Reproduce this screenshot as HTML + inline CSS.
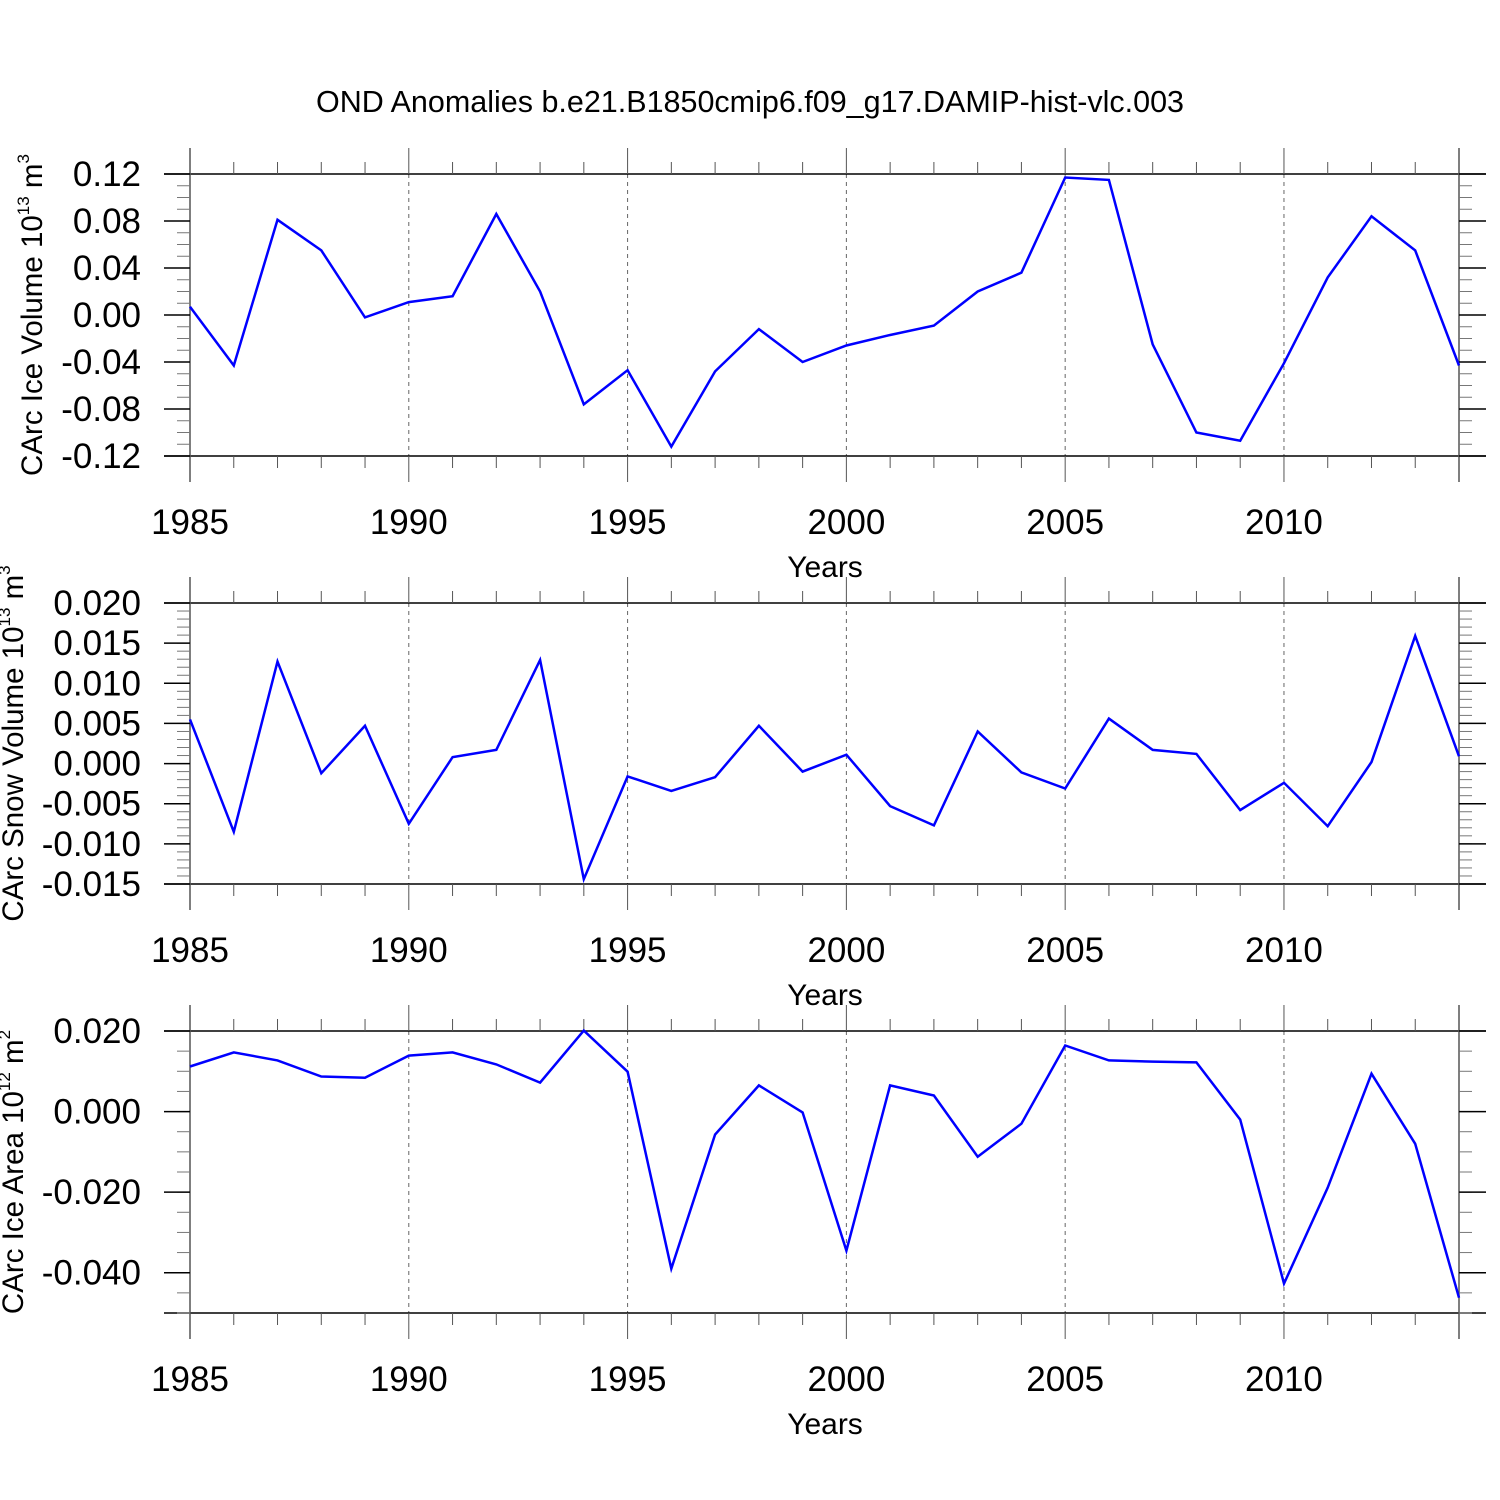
<!DOCTYPE html>
<html><head><meta charset="utf-8"><style>
body{margin:0;background:#fff}
svg{display:block;font-family:"Liberation Sans",sans-serif}
</style></head><body>
<svg id="chart" width="1500" height="1500" viewBox="0 0 1500 1500">
<rect width="1500" height="1500" fill="#fff"/>
<text x="750" y="112" font-size="30.5" text-anchor="middle">OND Anomalies b.e21.B1850cmip6.f09_g17.DAMIP-hist-vlc.003</text>
</svg>
<script>
const years = [];
for (let y = 1985; y <= 2014; y++) years.push(y);
const iceVolume = [0.007,-0.043,0.081,0.055,-0.002,0.011,0.016,0.086,0.020,-0.076,-0.047,-0.112,-0.048,-0.012,-0.040,-0.026,-0.017,-0.009,0.020,0.036,0.117,0.115,-0.025,-0.100,-0.107,-0.041,0.032,0.084,0.055,-0.043];
const snowVolume = [0.0055,-0.0085,0.0127,-0.0012,0.0047,-0.0075,0.0008,0.0017,0.0129,-0.0144,-0.0016,-0.0034,-0.0017,0.0047,-0.0010,0.0011,-0.0053,-0.0077,0.0040,-0.0011,-0.0031,0.0056,0.0017,0.0012,-0.0058,-0.0024,-0.0078,0.0002,0.0159,0.0009];
const iceArea = [0.0112,0.0147,0.0127,0.0087,0.0084,0.0139,0.0147,0.0117,0.0072,0.0201,0.0099,-0.039,-0.0057,0.0065,-0.0002,-0.0345,0.0065,0.0040,-0.0112,-0.0030,0.0164,0.0127,0.0124,0.0122,-0.0020,-0.0427,-0.0189,0.0094,-0.0080,-0.0462];
const xTicks = [1985,1990,1995,2000,2005,2010];
const iceVolTicks = [0.12,0.08,0.04,0.00,-0.04,-0.08,-0.12];
const snowTicks = [0.020,0.015,0.010,0.005,0.000,-0.005,-0.010,-0.015];
const areaTicks = [0.020,0.000,-0.020,-0.040];

const svg = document.getElementById('chart');
const NS = 'http://www.w3.org/2000/svg';
function mk(tag, attrs, parent){const e=document.createElementNS(NS,tag);for(const k in attrs)e.setAttribute(k,attrs[k]);(parent||svg).appendChild(e);return e;}
const X0=190, X1=1459, XMIN=1985, XMAX=2014;
function xs(v){return X0+(v-XMIN)/(XMAX-XMIN)*(X1-X0);}

function panel(key, top, bot, ymax, ymin, ticks, dec, minorStep, data, title, sup, unit, titleX){
  const g = mk('g',{});
  
  
  const ys = v => top + (ymax - v)/(ymax - ymin)*(bot - top);
  xTicks.forEach(t=>{ if(t>XMIN){ const l=mk('line',{x1:xs(t),x2:xs(t),y1:top,y2:bot,stroke:'#666','stroke-width':1,'stroke-dasharray':'4,4'},g);
     }});
  mk('line',{x1:164,x2:1486,y1:top,y2:top,stroke:'#000','stroke-width':1.5},g);
  mk('line',{x1:164,x2:1486,y1:bot,y2:bot,stroke:'#000','stroke-width':1.5},g);
  mk('line',{x1:X0,x2:X0,y1:top-26,y2:bot+26,stroke:'#555','stroke-width':1.5},g);
  mk('line',{x1:X1,x2:X1,y1:top-26,y2:bot+26,stroke:'#555','stroke-width':1.5},g);
  years.forEach(y=>{ const maj = xTicks.includes(y)||y===2014; const L = maj?26:12;
    mk('line',{x1:xs(y),x2:xs(y),y1:top,y2:top-L,stroke:'#555','stroke-width':1},g);
    mk('line',{x1:xs(y),x2:xs(y),y1:bot,y2:bot+L,stroke:'#555','stroke-width':1},g);});
  const n = Math.round((ymax-ymin)/minorStep);
  for(let i=0;i<=n;i++){ const v=ymax-i*minorStep; const yy=ys(v);
    mk('line',{x1:X0-13,x2:X0,y1:yy,y2:yy,stroke:'#777','stroke-width':1},g);
    mk('line',{x1:X1,x2:X1+13,y1:yy,y2:yy,stroke:'#777','stroke-width':1},g);}
  ticks.forEach(t=>{ const yy=ys(t);
    mk('line',{x1:164,x2:X0,y1:yy,y2:yy,stroke:'#000','stroke-width':1.5},g);
    mk('line',{x1:X1,x2:1486,y1:yy,y2:yy,stroke:'#000','stroke-width':1.5},g);
    const tx=mk('text',{x:141,y:yy+12,'font-size':35,'text-anchor':'end'},g);
    tx.textContent = t.toFixed(dec);
     });
  xTicks.forEach(t=>{ const tx=mk('text',{x:xs(t),y:bot+78,'font-size':35,'text-anchor':'middle'},g);
    tx.textContent=t;  });
  const xt=mk('text',{x:825,y:bot+121,'font-size':30,'text-anchor':'middle'},g);
  xt.textContent='Years';
  
  
  const cy=(top+bot)/2;
  const yt=mk('text',{x:0,y:0,'font-size':29.5,'text-anchor':'middle',transform:`translate(${titleX},${cy}) rotate(-90)`},g);
  
  
  yt.appendChild(document.createTextNode(title+' 10'));
  const s=document.createElementNS(NS,'tspan'); s.setAttribute('dy','-13'); s.setAttribute('font-size','17'); s.textContent=sup; yt.appendChild(s);
  const u=document.createElementNS(NS,'tspan'); u.setAttribute('dy','13'); u.textContent=' m'; yt.appendChild(u);
  const e=document.createElementNS(NS,'tspan'); e.setAttribute('dy','-13'); e.setAttribute('font-size','17'); e.textContent=unit; yt.appendChild(e);
  const pts = data.map((v,i)=>xs(years[i]).toFixed(1)+','+ys(v).toFixed(1)).join(' ');
  const pl=mk('polyline',{points:pts,fill:'none',stroke:'#0000ff','stroke-width':2.5,'stroke-linejoin':'miter'},g);
  
  
}
panel('ice-volume',174,456,0.12,-0.12,iceVolTicks,2,0.01,iceVolume,'CArc Ice Volume','13','3',42);
panel('snow-volume',603,884,0.020,-0.015,snowTicks,3,0.001,snowVolume,'CArc Snow Volume','13','3',23);
panel('ice-area',1031,1313,0.020,-0.050,areaTicks,3,0.005,iceArea,'CArc Ice Area','12','2',23);
</script>
</body></html>
